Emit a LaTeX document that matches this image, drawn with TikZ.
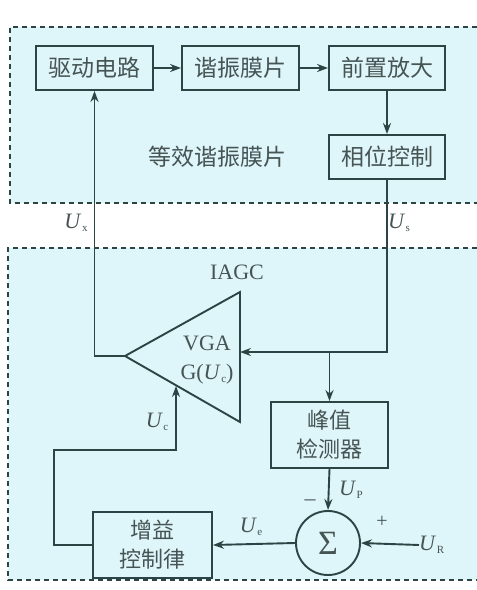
\documentclass[tikz,border=0pt]{standalone}
\usepackage{fontspec}
\setmainfont{Liberation Serif}
\newfontfamily\cjk{Noto Sans CJK SC}
\usetikzlibrary{arrows.meta}
\definecolor{lc}{RGB}{45,68,68}
\definecolor{tc}{RGB}{70,84,84}
\definecolor{bg}{RGB}{222,245,249}
\newcommand{\Usub}[1]{\textit{U}\kern0.5pt\raisebox{-0.35ex}{\fontsize{11}{11}\selectfont #1}}
\tikzset{
  box/.style={draw=lc, line width=1.9pt, minimum height=44pt, text=tc, font=\cjk\fontsize{23}{27}\selectfont, inner sep=0pt, align=center},
  conn/.style={draw=lc, line width=1.9pt},
  arr/.style={conn, -{Stealth[length=11pt,width=8pt]}},
  lbl/.style={text=tc, font=\fontsize{22}{23}\selectfont, inner sep=0pt},
  region/.style={draw=lc, line width=1.5pt, dash pattern=on 5pt off 4pt}
}
\begin{document}
\begin{tikzpicture}[x=1pt,y=-1pt]
\useasboundingbox (0,0) rectangle (477,590);
\fill[white] (0,0) rectangle (477,590);
% regions
\fill[bg] (10,27) rectangle (477,203);
\fill[bg] (8,248) rectangle (477,580);
\draw[region] (477,27) -- (10,27) -- (10,203) -- (477,203);
\draw[region] (477,248) -- (8,248) -- (8,580) -- (477,580);
% boxes
\node[box, minimum width=117pt] (drive) at (94.5,68) {驱动电路};
\node[box, minimum width=117pt] (reso) at (240.5,68) {谐振膜片};
\node[box, minimum width=116pt] (pre) at (387,68) {前置放大};
\node[box, minimum width=116pt] (phase) at (387,157) {相位控制};
\node[text=tc, font=\cjk\fontsize{23}{27}\selectfont] (equiv) at (217,157) {等效谐振膜片};
\node[box, minimum width=117pt, minimum height=66pt, font=\cjk\fontsize{22}{29}\selectfont] (peak) at (329.5,435) {峰值\\检测器};
\node[box, minimum width=119pt, minimum height=66pt, font=\cjk\fontsize{22}{29}\selectfont] (gain) at (152.5,545) {增益\\控制律};
\node[draw=lc, line width=1.9pt, circle, minimum size=64pt, inner sep=0pt, text=tc, font=\fontsize{34}{34}\selectfont] (sum) at (328,543) {Σ};
% triangle VGA
\coordinate (tA) at (125,356);
\coordinate (tT) at (240,292);
\coordinate (tB) at (240,422);
\draw[conn, line join=miter] (tA) -- (tT) -- (tB) -- cycle;
\node[lbl] (vga) at (207,343) {VGA};
\node[lbl] (gfun) at (207,374) {G(\Usub{c})};
\node[lbl] (iagc) at (237,272) {IAGC};
% coordinates
\coordinate (tin) at (240,352);
\coordinate (j1) at (phase.south |- tin);
\coordinate (br) at (peak.north |- tin);
\coordinate (cin) at (176,386);
\coordinate (g1) at (54,545);
\coordinate (g2) at (54,450);
\coordinate (g3) at (176,450);
\node[lbl, anchor=west] (UR) at (419,545) {\Usub{R}};
% connectors
\draw[arr] (drive) -- (reso);
\draw[arr] (reso) -- (pre);
\draw[arr] (pre) -- (phase);
\draw[arr] (phase.south) -- (j1) -- (tin);
\draw[arr] (br) -- (peak.north);
\draw[arr] (peak.south) -- (sum.north);
\draw[arr] (UR.west) -- (sum.east);
\draw[arr] (sum.west) -- (gain.east);
\draw[arr] (gain.west) -- (g1) -- (g2) -- (g3) -- (cin);
\draw[arr] (tA) -- (tA -| drive.south) -- (drive.south);
% labels
\node[lbl] (Ux) at (76,223) {\Usub{x}};
\node[lbl] (Us) at (399,223) {\Usub{s}};
\node[lbl] (Uc) at (157,422) {\Usub{c}};
\node[lbl] (Up) at (351,490) {\Usub{P}};
\node[lbl] (Ue) at (251,527) {\Usub{e}};
\node[lbl, font=\fontsize{22}{22}\selectfont] (minus) at (310,503) {–};
\node[lbl, font=\fontsize{20}{20}\selectfont] (plus) at (382,522) {+};
\end{tikzpicture}
\end{document}
